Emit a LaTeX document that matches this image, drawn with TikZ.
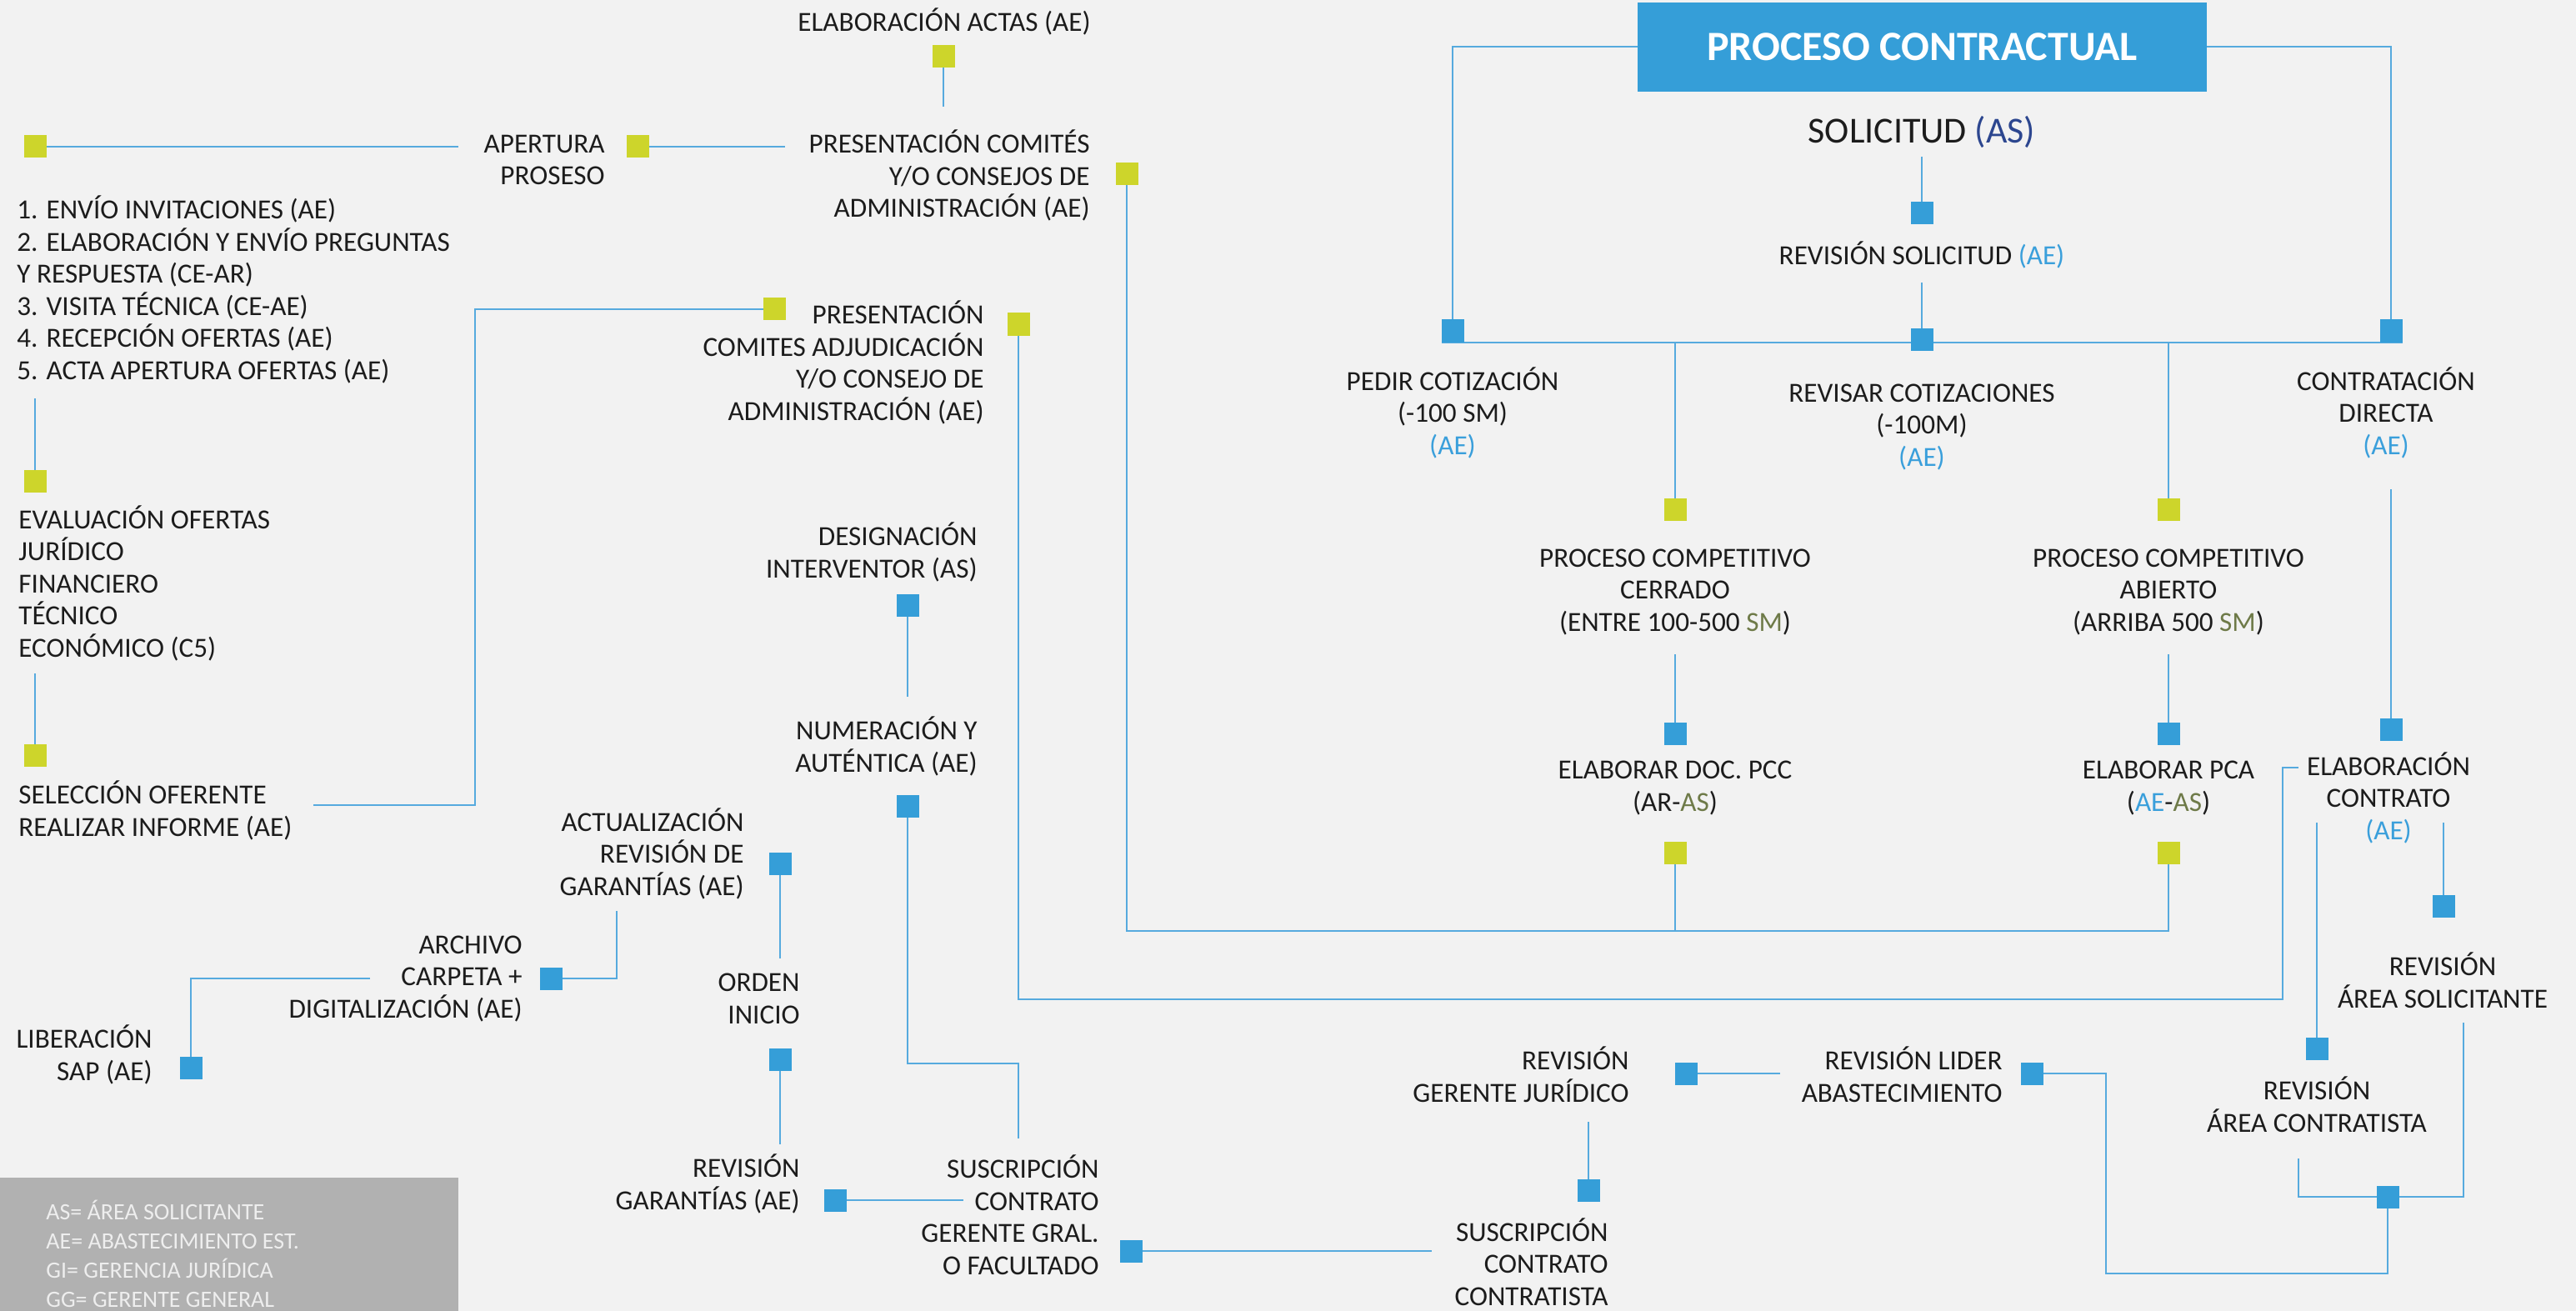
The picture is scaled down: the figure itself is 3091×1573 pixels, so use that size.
\documentclass[tikz,border=0pt]{standalone}
\usepackage{fontspec}
\setmainfont{Carlito}
\usepackage{tikz}
\usetikzlibrary{backgrounds}
\definecolor{cBlue}{RGB}{53,158,216}
\definecolor{cGreen}{RGB}{205,213,43}
\definecolor{cLine}{RGB}{86,170,222}
\definecolor{cAE}{RGB}{58,159,219}
\definecolor{cAS}{RGB}{44,70,143}
\definecolor{cSM}{RGB}{110,122,72}
\definecolor{cTxt}{RGB}{28,28,28}
\definecolor{cBg}{RGB}{242,242,242}
\definecolor{cLeg}{RGB}{177,177,177}
\definecolor{cLegTxt}{RGB}{238,238,238}

\begin{document}
\begin{tikzpicture}[x=0.5pt, y=-0.5pt,
    sqb/.style={fill=cBlue, minimum size=13.5pt, inner sep=0pt, outer sep=0pt},
    sqg/.style={fill=cGreen, minimum size=13.5pt, inner sep=0pt, outer sep=0pt},
    lbl/.style={font=\fontsize{16.6}{19.25}\selectfont, text=cTxt, inner sep=0pt},
    lblc/.style={lbl, align=center, anchor=base},
    lblr/.style={lbl, align=right, anchor=base east},
    lbll/.style={lbl, align=left, anchor=base west},
    wire/.style={draw=cLine, line width=1pt}]
    \useasboundingbox (0,0) rectangle (3091,1573);

    % Title
    \node[fill=cBlue, minimum width=341.5pt, minimum height=53.5pt, text=white,
          font=\fontsize{25}{30}\selectfont\bfseries] (title) at (2306.5,56.5) {PROCESO CONTRACTUAL};
    \node[lblc, font=\fontsize{22}{26}\selectfont] (solic) at (2306,172) {SOLICITUD \textcolor{cAS}{(AS)}};

    % Labels (placed at the baseline of their last line)
    \node[lblc] (revsol) at (2306,318) {REVISIÓN SOLICITUD \textcolor{cAE}{(AE)}};
    \node[lblc] (pedir) at (1743,545) {PEDIR COTIZACIÓN\\(-100 SM)\\\textcolor{cAE}{(AE)}};
    \node[lblc] (revisar) at (2306,559) {REVISAR COTIZACIONES\\(-100M)\\\textcolor{cAE}{(AE)}};
    \node[lblc] (directa) at (2863,545) {CONTRATACIÓN\\DIRECTA\\\textcolor{cAE}{(AE)}};
    \node[lblc] (cerrado) at (2010,757) {PROCESO COMPETITIVO\\CERRADO\\(ENTRE 100-500 \textcolor{cSM}{SM})};
    \node[lblc] (abierto) at (2602,757) {PROCESO COMPETITIVO\\ABIERTO\\(ARRIBA 500 \textcolor{cSM}{SM})};
    \node[lblc] (elabpcc) at (2010,973) {ELABORAR DOC. PCC\\(AR-\textcolor{cSM}{AS})};
    \node[lblc] (elabpca) at (2602,973) {ELABORAR PCA\\(\textcolor{cAE}{AE}-\textcolor{cSM}{AS})};
    \node[lblc] (elabcont) at (2866,1007) {ELABORACIÓN\\CONTRATO\\\textcolor{cAE}{(AE)}};
    \node[lblc] (revsolic) at (2931,1209) {REVISIÓN\\ÁREA SOLICITANTE};
    \node[lblc] (revcontr) at (2780,1358) {REVISIÓN\\ÁREA CONTRATISTA};
    \node[lblr] (revlider) at (2403,1322) {REVISIÓN LIDER\\ABASTECIMIENTO};
    \node[lblr] (revjur) at (1955,1322) {REVISIÓN\\GERENTE JURÍDICO};
    \node[lblr] (susccon) at (1930,1566) {SUSCRIPCIÓN\\CONTRATO\\CONTRATISTA};
    \node[lblr] (suscger) at (1319,1529) {SUSCRIPCIÓN\\CONTRATO\\GERENTE GRAL.\\O FACULTADO};
    \node[lblr] (revgar) at (960,1451) {REVISIÓN\\GARANTÍAS (AE)};
    \node[lblr] (orden) at (960,1228) {ORDEN\\INICIO};
    \node[lblr] (actualiz) at (893,1074) {ACTUALIZACIÓN\\REVISIÓN DE\\GARANTÍAS (AE)};
    \node[lblr] (archivo) at (627,1221) {ARCHIVO\\CARPETA +\\DIGITALIZACIÓN (AE)};
    \node[lblr] (libera) at (183,1296) {LIBERACIÓN\\SAP (AE)};
    \node[lblr] (numera) at (1173,926) {NUMERACIÓN Y\\AUTÉNTICA (AE)};
    \node[lblr] (design) at (1173,693) {DESIGNACIÓN\\INTERVENTOR (AS)};
    \node[lblr] (presadj) at (1181,504) {PRESENTACIÓN\\COMITES ADJUDICACIÓN\\Y/O CONSEJO DE\\ADMINISTRACIÓN (AE)};
    \node[lblr] (prescom) at (1308,261) {PRESENTACIÓN COMITÉS\\Y/O CONSEJOS DE\\ADMINISTRACIÓN (AE)};
    \node[lblr] (apertura) at (726,222) {APERTURA\\PROSESO};
    \node[lblc] (actas) at (1133,38) {ELABORACIÓN ACTAS (AE)};
    \node[lbll] (lista) at (20,455) {1. ENVÍO INVITACIONES (AE)\\2. ELABORACIÓN Y ENVÍO PREGUNTAS\\Y RESPUESTA (CE-AR)\\3. VISITA TÉCNICA (CE-AE)\\4. RECEPCIÓN OFERTAS (AE)\\5. ACTA APERTURA OFERTAS (AE)};
    \node[lbll] (evalua) at (22,788) {EVALUACIÓN OFERTAS\\JURÍDICO\\FINANCIERO\\TÉCNICO\\ECONÓMICO (C5)};
    \node[lbll] (selecc) at (22,1003) {SELECCIÓN OFERENTE\\REALIZAR INFORME (AE)};
    \node[lbll, font=\fontsize{14}{17.35}\selectfont, text=cLegTxt] (leyenda) at (55,1568)
        {AS= ÁREA SOLICITANTE\\AE= ABASTECIMIENTO EST.\\GI= GERENCIA JURÍDICA\\GG= GERENTE GENERAL};

    % Squares
    \node[sqb] (qSolic) at (2306,256) {};
    \node[sqb] (qRevsol) at (2306,407) {};
    \node[sqb] (qPedir) at (1743,397) {};
    \node[sqb] (qDirecta) at (2869,397) {};
    \node[sqg] (qCerrado) at (2010,611) {};
    \node[sqg] (qAbierto) at (2602,611) {};
    \node[sqb] (qPcc) at (2010,880) {};
    \node[sqb] (qPca) at (2602,880) {};
    \node[sqg] (qPccOut) at (2010,1023) {};
    \node[sqg] (qPcaOut) at (2602,1023) {};
    \node[sqb] (qElab) at (2869,875) {};
    \node[sqb] (qRevsolic) at (2932,1087) {};
    \node[sqb] (qRevcontr) at (2780,1258) {};
    \node[sqb] (qMerge) at (2865,1436) {};
    \node[sqb] (qLider) at (2438,1288) {};
    \node[sqb] (qJur) at (2023,1288) {};
    \node[sqb] (qSusccon) at (1906,1428) {};
    \node[sqb] (qSuscger) at (1357,1501) {};
    \node[sqb] (qRevgar) at (1002,1440) {};
    \node[sqb] (qOrden) at (936,1271) {};
    \node[sqb] (qActualiz) at (936,1036) {};
    \node[sqb] (qArchivo) at (661,1174) {};
    \node[sqb] (qLibera) at (229,1281) {};
    \node[sqb] (qNumera) at (1089,967) {};
    \node[sqb] (qDesign) at (1089,726) {};
    \node[sqg] (qActas) at (1132,68) {};
    \node[sqg] (qInicio) at (42,176) {};
    \node[sqg] (qApertura) at (765,176) {};
    \node[sqg] (qPrescom) at (1352,209) {};
    \node[sqg] (qSelIn) at (929,371) {};
    \node[sqg] (qPresadj) at (1222,389) {};
    \node[sqg] (qEvalua) at (42,577) {};
    \node[sqg] (qSelecc) at (42,906) {};

    % Free ends
    \coordinate (solicOut) at (2306,188);
    \coordinate (revsolOut) at (2306,339);
    \coordinate (dirOut) at (2869,587);
    \coordinate (pccOut) at (2010,785);
    \coordinate (pcaOut) at (2602,785);
    \coordinate (elabOutA) at (2780,987);
    \coordinate (elabOutB) at (2932,987);
    \coordinate (elabIn) at (2758,921);
    \coordinate (contrOut) at (2758,1390);
    \coordinate (solicitOut) at (2956,1227);
    \coordinate (loopB) at (2527,1528);
    \coordinate (liderIn) at (2136,1288);
    \coordinate (jurOut) at (1906,1346);
    \coordinate (suscgOut) at (1718,1501);
    \coordinate (revgarOut) at (1156,1440);
    \coordinate (ordenOut) at (936,1373);
    \coordinate (actOut) at (936,1150);
    \coordinate (garOut) at (740,1093);
    \coordinate (archOut) at (444,1174);
    \coordinate (numTurn) at (1222,1276);
    \coordinate (suscIn) at (1222,1366);
    \coordinate (desigOut) at (1089,836);
    \coordinate (actasIn) at (1132,128);
    \coordinate (inicioOut) at (550,176);
    \coordinate (aperturaOut) at (942,176);
    \coordinate (busA) at (1352,1117);
    \coordinate (busB) at (2739,1199);
    \coordinate (selOut) at (376,966);
    \coordinate (selUp) at (570,371);
    \coordinate (listaOut) at (42,478);
    \coordinate (evalOut) at (42,808);

    % Lines
    \begin{scope}[on background layer]
        \fill[cBg] (0,0) rectangle (3091,1573);
        \fill[cLeg] (0,1413) rectangle (550,1573);
        \draw[wire] (title.west) -| (qPedir);
        \draw[wire] (title.east) -| (qDirecta);
        \draw[wire] (solicOut) -- (qSolic);
        \draw[wire] (revsolOut) -- (qRevsol);
        \draw[wire] (qPedir.south west) -- (qDirecta.south east);
        \draw[wire] (qCerrado) -- (qCerrado |- qPedir.south);
        \draw[wire] (qAbierto) -- (qAbierto |- qPedir.south);
        \draw[wire] (dirOut) -- (qElab);
        \draw[wire] (pccOut) -- (qPcc);
        \draw[wire] (pcaOut) -- (qPca);
        \draw[wire] (elabOutA) -- (qRevcontr);
        \draw[wire] (elabOutB) -- (qRevsolic);
        \draw[wire] (contrOut) |- (qMerge) -| (solicitOut);
        \draw[wire] (qLider) -| (loopB) -| (qMerge);
        \draw[wire] (qJur) -- (liderIn);
        \draw[wire] (jurOut) -- (qSusccon);
        \draw[wire] (qSuscger) -- (suscgOut);
        \draw[wire] (qRevgar) -- (revgarOut);
        \draw[wire] (qOrden) -- (ordenOut);
        \draw[wire] (qActualiz) -- (actOut);
        \draw[wire] (garOut) |- (qArchivo);
        \draw[wire] (archOut) -| (qLibera);
        \draw[wire] (qNumera) |- (numTurn) -- (suscIn);
        \draw[wire] (qDesign) -- (desigOut);
        \draw[wire] (qActas) -- (actasIn);
        \draw[wire] (qInicio) -- (inicioOut);
        \draw[wire] (qApertura) -- (aperturaOut);
        \draw[wire] (qPrescom) -- (busA) -| (qPcaOut);
        \draw[wire] (qPccOut) -- (qPccOut |- busA);
        \draw[wire] (qPresadj) |- (busB) |- (elabIn);
        \draw[wire] (selOut) -| (selUp) -- (qSelIn);
        \draw[wire] (listaOut) -- (qEvalua);
        \draw[wire] (evalOut) -- (qSelecc);
    \end{scope}
\end{tikzpicture}
\end{document}
